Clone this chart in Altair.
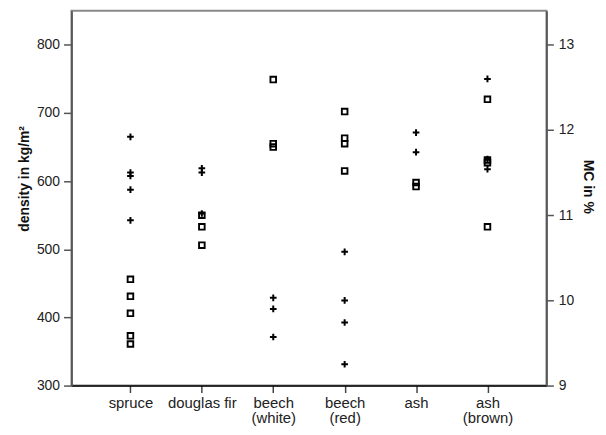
import altair as alt
import pandas as pd

categories = ["spruce", "douglas fir", "beech\n(white)", "beech\n(red)", "ash", "ash\n(brown)"]

# density in kg/m² (open squares, left axis)
density_spruce = [456, 431, 406, 373, 361]
density_douglas = [550, 533, 506]
density_beech_white = [749, 655, 650]
density_beech_red = [702, 663, 655, 615]
density_ash = [598, 592]
density_ash_brown = [720, 631, 627, 533]

# MC in % (plus signs, right axis)
mc_spruce = [11.92, 11.50, 11.46, 11.30, 10.94]
mc_douglas = [11.55, 11.50, 11.02]
mc_beech_white = [10.03, 9.90, 9.57]
mc_beech_red = [10.57, 10.00, 9.74, 9.25]
mc_ash = [11.97, 11.74]
mc_ash_brown = [12.60, 11.66, 11.54]

density_ticks = [300, 400, 500, 600, 700, 800]
mc_ticks = [9, 10, 11, 12, 13]

dens_lists = [density_spruce, density_douglas, density_beech_white,
              density_beech_red, density_ash, density_ash_brown]
mc_lists = [mc_spruce, mc_douglas, mc_beech_white, mc_beech_red, mc_ash, mc_ash_brown]

df_d = pd.DataFrame([{"species": c, "density": v} for c, vals in zip(categories, dens_lists) for v in vals])
df_m = pd.DataFrame([{"species": c, "mc": v} for c, vals in zip(categories, mc_lists) for v in vals])

FONT = "Liberation Sans"

x_enc = alt.X(
    "species:N",
    sort=categories,
    scale=alt.Scale(type="point", padding=0.826, domain=categories),
    axis=alt.Axis(
        title=None, labelAngle=0, labelExpr="split(datum.label, '\\n')",
        labelFont=FONT, labelFontSize=15, labelColor="#222", labelLineHeight=15,
        labelPadding=3, tickSize=7, tickColor="#444", tickWidth=1.5,
        domainColor="#000", domainWidth=1.5, grid=False,
    ),
)

squares = alt.Chart(df_d).mark_point(
    shape="square", filled=False, size=32, strokeWidth=1.9, color="#000", opacity=1
).encode(
    x=x_enc,
    y=alt.Y(
        "density:Q",
        scale=alt.Scale(domain=[300, 850], nice=False, zero=False),
        axis=alt.Axis(
            orient="left", values=density_ticks, title="density in kg/m²",
            titleFont=FONT, titleFontSize=14, titleFontWeight="bold", titleColor="#111",
            titleX=-43, titleY=169, titleBaseline="alphabetic", titleAngle=270,
            labelFont=FONT, labelFontSize=14, labelColor="#222", labelPadding=4,
            tickSize=8, tickColor="#555", tickWidth=1.5,
            domainColor="#555", domainWidth=1.8, grid=False,
        ),
    ),
)

pluses = alt.Chart(df_m).mark_point(
    shape="M-1,0H1M0,-1V1", filled=False, size=45, strokeWidth=2, color="#000", opacity=1
).encode(
    x=alt.X("species:N", sort=categories),
    y=alt.Y(
        "mc:Q",
        scale=alt.Scale(domain=[9, 13.4], nice=False, zero=False),
        axis=alt.Axis(
            orient="right", values=mc_ticks, title="MC in %",
            titleFont=FONT, titleFontSize=14, titleFontWeight="bold", titleColor="#111",
            titleX=37, titleY=177, titleBaseline="alphabetic", titleAngle=90,
            labelFont=FONT, labelFontSize=14, labelColor="#222", labelPadding=5,
            tickSize=7, tickColor="#555", tickWidth=1.5,
            domainColor="#555", domainWidth=1.8, grid=False,
        ),
    ),
)

chart = alt.layer(squares, pluses).resolve_scale(y="independent").properties(
    width=479,
    height=378,
    autosize=alt.AutoSizeParams(type="none"),
    padding={"left": 64, "top": 1, "right": 52, "bottom": 40},
).configure_view(stroke="#8a8a8a", strokeWidth=2)

chart.save("out.html", embed_options={"renderer": "svg", "actions": False})
